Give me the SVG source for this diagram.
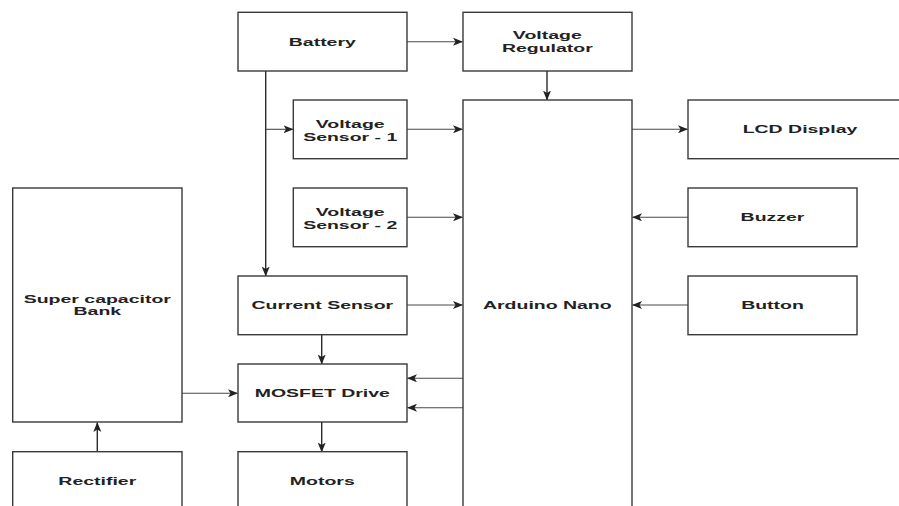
<svg xmlns="http://www.w3.org/2000/svg" width="899" height="506" viewBox="0 0 899 506">
<defs>
<style>
.box{fill:#fff;stroke:#3a3a3a;stroke-width:1.4}
.lbl{font-family:"Liberation Sans",Arial,sans-serif;font-weight:bold;font-size:11.6px;fill:#222;text-anchor:middle}
.c{fill:none;stroke:#4a4a4a;stroke-width:1.1}
.ct{fill:none;stroke:#2a2a2a;stroke-width:1.4}
</style>
<marker id="ah" viewBox="0 0 10 8" refX="9.5" refY="4" markerWidth="10" markerHeight="8" markerUnits="userSpaceOnUse" orient="auto">
<path d="M0,0 L10,4 L0,8 L2.5,4 Z" fill="#222"/>
</marker>
</defs>
<rect width="899" height="506" fill="#fff"/>
<g id="connectors">
<path class="c" d="M407,41.7 H462.5" marker-end="url(#ah)"/>
<path class="ct" d="M547,71 V100" marker-end="url(#ah)"/>
<path class="ct" d="M265.7,71 V276" marker-end="url(#ah)"/>
<path class="c" d="M265.7,129.3 H293" marker-end="url(#ah)"/>
<path class="c" d="M407,129.3 H462.5" marker-end="url(#ah)"/>
<path class="c" d="M407,217.3 H462.5" marker-end="url(#ah)"/>
<path class="c" d="M407,305 H462.5" marker-end="url(#ah)"/>
<path class="c" d="M632,129.3 H687.5" marker-end="url(#ah)"/>
<path class="c" d="M688,217.3 H632.5" marker-end="url(#ah)"/>
<path class="c" d="M688,305 H632.5" marker-end="url(#ah)"/>
<path class="ct" d="M321.7,335 V364" marker-end="url(#ah)"/>
<path class="c" d="M463,378.3 H407.5" marker-end="url(#ah)"/>
<path class="c" d="M463,407.7 H407.5" marker-end="url(#ah)"/>
<path class="c" d="M182,393.3 H237.5" marker-end="url(#ah)"/>
<path class="ct" d="M321.7,422 V452" marker-end="url(#ah)"/>
<path class="ct" d="M97.3,452 V422.5" marker-end="url(#ah)"/>
</g>
<g id="battery">
<rect class="box" x="238" y="12.3" width="169" height="58.7"/>
<text class="lbl" transform="translate(322.3,0) scale(1.68,1)" x="0" y="45.9">Battery</text>
</g>
<g id="voltage-regulator">
<rect class="box" x="463" y="12.3" width="169" height="58.7"/>
<text class="lbl" transform="translate(547.3,0) scale(1.68,1)" x="0" y="39.3">Voltage</text>
<text class="lbl" transform="translate(547.3,0) scale(1.68,1)" x="0" y="51.9">Regulator</text>
</g>
<g id="voltage-sensor-1">
<rect class="box" x="293.3" y="100" width="113.7" height="58.7"/>
<text class="lbl" transform="translate(350.2,0) scale(1.68,1)" x="0" y="128.3">Voltage</text>
<text class="lbl" transform="translate(350.2,0) scale(1.68,1)" x="0" y="140.9">Sensor - 1</text>
</g>
<g id="voltage-sensor-2">
<rect class="box" x="293.3" y="188" width="113.7" height="58.7"/>
<text class="lbl" transform="translate(350.2,0) scale(1.68,1)" x="0" y="216.3">Voltage</text>
<text class="lbl" transform="translate(350.2,0) scale(1.68,1)" x="0" y="228.9">Sensor - 2</text>
</g>
<g id="arduino-nano">
<rect class="box" x="463" y="100" width="169" height="420"/>
<text class="lbl" transform="translate(547.3,0) scale(1.68,1)" x="0" y="309.2">Arduino Nano</text>
</g>
<g id="lcd-display">
<rect class="box" x="688" y="100" width="224" height="58.7"/>
<text class="lbl" transform="translate(800,0) scale(1.68,1)" x="0" y="133.5">LCD Display</text>
</g>
<g id="buzzer">
<rect class="box" x="688" y="188" width="169" height="58.7"/>
<text class="lbl" transform="translate(772.5,0) scale(1.68,1)" x="0" y="221.5">Buzzer</text>
</g>
<g id="button">
<rect class="box" x="688" y="276" width="169" height="58.7"/>
<text class="lbl" transform="translate(772.5,0) scale(1.68,1)" x="0" y="309.2">Button</text>
</g>
<g id="super-capacitor-bank">
<rect class="box" x="12.7" y="188" width="169.3" height="234"/>
<text class="lbl" transform="translate(97.3,0) scale(1.68,1)" x="0" y="303.5">Super capacitor</text>
<text class="lbl" transform="translate(97.3,0) scale(1.68,1)" x="0" y="315.2">Bank</text>
</g>
<g id="current-sensor">
<rect class="box" x="238" y="276" width="169" height="58.7"/>
<text class="lbl" transform="translate(322.3,0) scale(1.68,1)" x="0" y="309.2">Current Sensor</text>
</g>
<g id="mosfet-drive">
<rect class="box" x="238" y="364" width="169" height="58"/>
<text class="lbl" transform="translate(322.3,0) scale(1.68,1)" x="0" y="397.5">MOSFET Drive</text>
</g>
<g id="motors">
<rect class="box" x="238" y="451.7" width="169" height="70"/>
<text class="lbl" transform="translate(322.3,0) scale(1.68,1)" x="0" y="484.9">Motors</text>
</g>
<g id="rectifier">
<rect class="box" x="12.7" y="451.7" width="169.3" height="70"/>
<text class="lbl" transform="translate(97.3,0) scale(1.68,1)" x="0" y="484.9">Rectifier</text>
</g>
</svg>
